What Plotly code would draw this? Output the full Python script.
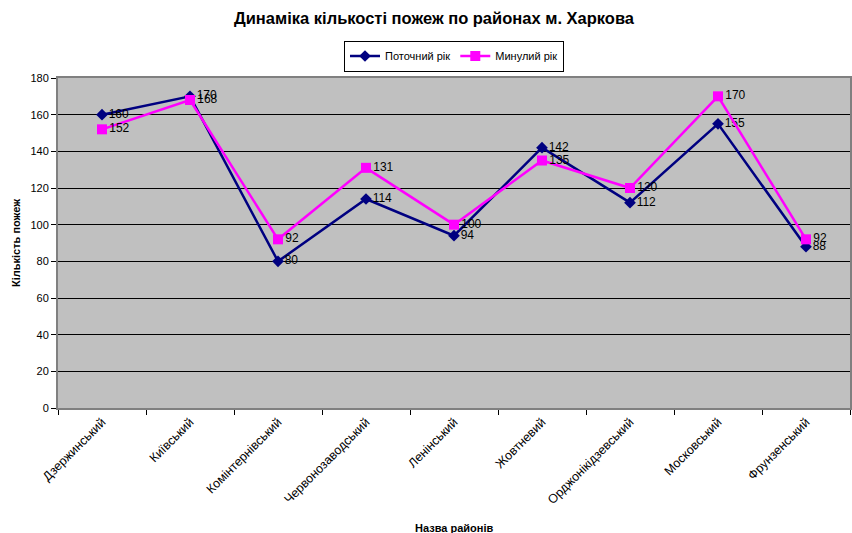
import plotly.graph_objects as go

districts = ["Дзержинський", "Київський", "Комінтернівський", "Червонозаводський",
             "Ленінський", "Жовтневий", "Орджонікідзевський", "Московський", "Фрунзенський"]
current_year = [160, 170, 80, 114, 94, 142, 112, 155, 88]
last_year = [152, 168, 92, 131, 100, 135, 120, 170, 92]

FONT = "Liberation Sans, Arial, sans-serif"
W, H = 852, 533
L, R, T, B = 58, 2, 78, 125
PW, PH = W - L - R, H - T - B

fig = go.Figure()
fig.add_trace(go.Scatter(
    x=districts, y=current_year, name="Поточний рік",
    mode="lines+markers+text", text=[str(v) for v in current_year],
    textposition="middle right", textfont=dict(size=12, color="#000000", family=FONT),
    line=dict(color="#000080", width=2.5),
    marker=dict(symbol="diamond", size=9, color="#000080"),
))
fig.add_trace(go.Scatter(
    x=districts, y=last_year, name="Минулий рік",
    mode="lines+markers+text", text=[str(v) for v in last_year],
    textposition="middle right", textfont=dict(size=12, color="#000000", family=FONT),
    line=dict(color="#FF00FF", width=2.5),
    marker=dict(symbol="square", size=10, color="#FF00FF"),
))

fig.update_layout(
    width=W, height=H,
    margin=dict(l=L, r=R, t=T, b=B, autoexpand=False),
    paper_bgcolor="#FFFFFF",
    plot_bgcolor="#C0C0C0",
    font=dict(family=FONT, size=11, color="#000000"),
    title=dict(text="<b>Динаміка кількості пожеж по районах м. Харкова</b>",
               x=(434 - L) / PW, xref="paper", xanchor="center",
               yref="container", y=1 - 18 / H, yanchor="middle",
               font=dict(size=16.5, family=FONT, color="#000000")),
    legend=dict(orientation="h", x=(454 - L) / PW, xanchor="center",
                yref="container", y=1 - 56 / H, yanchor="middle",
                bordercolor="#000000", borderwidth=1, bgcolor="#FFFFFF",
                font=dict(size=11, family=FONT), itemwidth=30,
                tracegroupgap=0),
    showlegend=True,
    annotations=[
        dict(text="<b>Назва районів</b>", xref="paper", x=0.5, xanchor="center",
             yref="paper", y=(T + PH - 528) / PH, yanchor="middle", showarrow=False,
             font=dict(size=11, family=FONT)),
        dict(text="<b>Кількість пожеж</b>", xref="paper", x=(16 - L) / PW, xanchor="center",
             yref="paper", y=0.5, yanchor="middle", showarrow=False, textangle=-90,
             font=dict(size=11, family=FONT)),
    ],
)
fig.update_xaxes(
    type="category", range=[-0.5, 8.5], tickson="boundaries",
    ticks="outside", ticklen=5, tickcolor="#000000",
    tickangle=-45, tickfont=dict(size=12.5, family=FONT),
    showline=True, linecolor="#808080", linewidth=2, mirror=True,
    showgrid=False, automargin=False,
)
fig.update_yaxes(
    range=[0, 180], dtick=20, ticks="outside", ticklen=5, tickcolor="#000000",
    tickfont=dict(size=11, family=FONT),
    showgrid=True, gridcolor="#000000", gridwidth=1,
    showline=True, linecolor="#808080", linewidth=2, mirror=True,
    zeroline=False, automargin=False,
)

fig.write_html("out.html", config={"displayModeBar": False},
               post_script="document.body.style.margin='0';")
